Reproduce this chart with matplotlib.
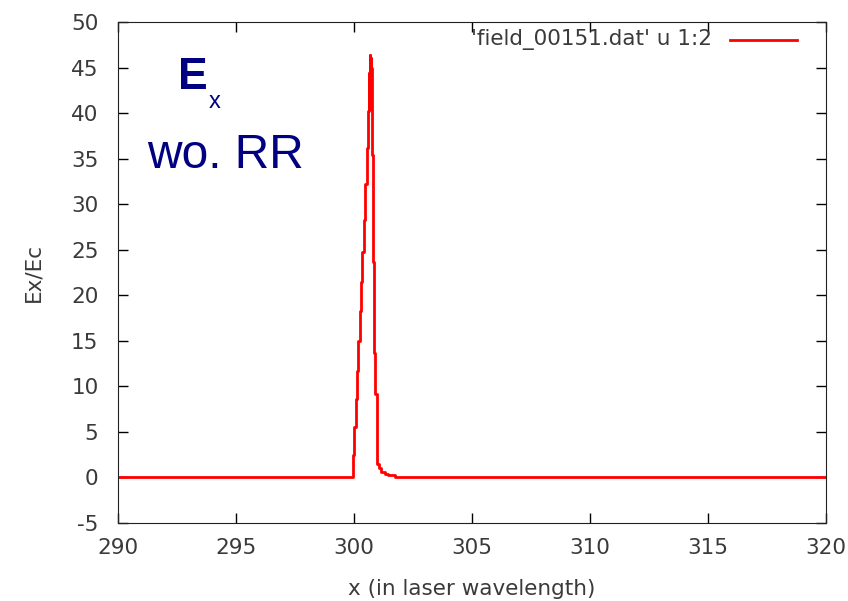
import matplotlib
matplotlib.use("Agg")
import matplotlib.pyplot as plt

plt.rcParams['axes.unicode_minus'] = False

# step data (left edge of each step, value)
x_steps = [290, 299.97, 300.02, 300.08, 300.14, 300.19, 300.25, 300.31, 300.36,
           300.42, 300.48, 300.54, 300.60, 300.63, 300.65, 300.67, 300.69, 300.72,
           300.74, 300.78, 300.82, 300.86, 300.91, 300.99, 301.05, 301.15, 301.3,
           301.45, 301.72, 320]
ex_vals = [0, 2.5, 5.5, 8.6, 11.7, 15.0, 18.3, 21.5, 24.8,
           28.3, 32.2, 36.2, 40.2, 44.4, 40.5, 46.4, 43.5, 46.0,
           45.0, 35.4, 23.6, 13.7, 9.2, 1.5, 1.0, 0.6, 0.4,
           0.25, 0, 0]

x_ticks = [290, 295, 300, 305, 310, 315, 320]
y_ticks = [-5, 0, 5, 10, 15, 20, 25, 30, 35, 40, 45, 50]
legend_label = "'field_00151.dat' u 1:2"

fs = 15.5
txt_col = '#3a3a3a'

fig = plt.figure(figsize=(8.48, 6.01), dpi=100)
ax = fig.add_axes([118 / 848, 1 - 523 / 601, 708 / 848, 501 / 601])

ax.step(x_steps, ex_vals, where='post', color='red', lw=2)

ax.set_xlim(290, 320)
ax.set_ylim(-5, 50)
ax.set_xticks(x_ticks)
ax.set_yticks(y_ticks)
ax.tick_params(direction='in', length=7, width=1, top=True, right=True,
               labelsize=fs, labelcolor=txt_col)
ax.tick_params(axis='x', pad=11)
ax.tick_params(axis='y', pad=14)
for s in ax.spines.values():
    s.set_color('#222222')
ax.set_xlabel('x (in laser wavelength)', fontsize=fs, color=txt_col, labelpad=15)
ax.set_ylabel('Ex/Ec', fontsize=fs, color=txt_col, labelpad=20)

# gnuplot-style key
fig.text(712 / 848, 1 - 40 / 601, legend_label, ha='right', va='center',
         fontsize=fs, color=txt_col)
ax.plot([(730 - 118) / 708, (797 - 118) / 708], [(523 - 40) / 501] * 2,
        transform=ax.transAxes, color='red', lw=2, clip_on=False)

# annotations
fig.text(178 / 848, 1 - 89 / 601, 'E', fontsize=32, fontweight='bold',
         color='#000080', family='Liberation Sans', va='baseline')
fig.text(209 / 848, 1 - 108 / 601, 'x', fontsize=17,
         color='#000080', family='Liberation Sans', va='baseline')
fig.text(147 / 848, 1 - 168 / 601, 'wo. RR', fontsize=34.5,
         color='#000080', family='Liberation Sans', va='baseline')

fig.savefig('out.png', dpi=100)
